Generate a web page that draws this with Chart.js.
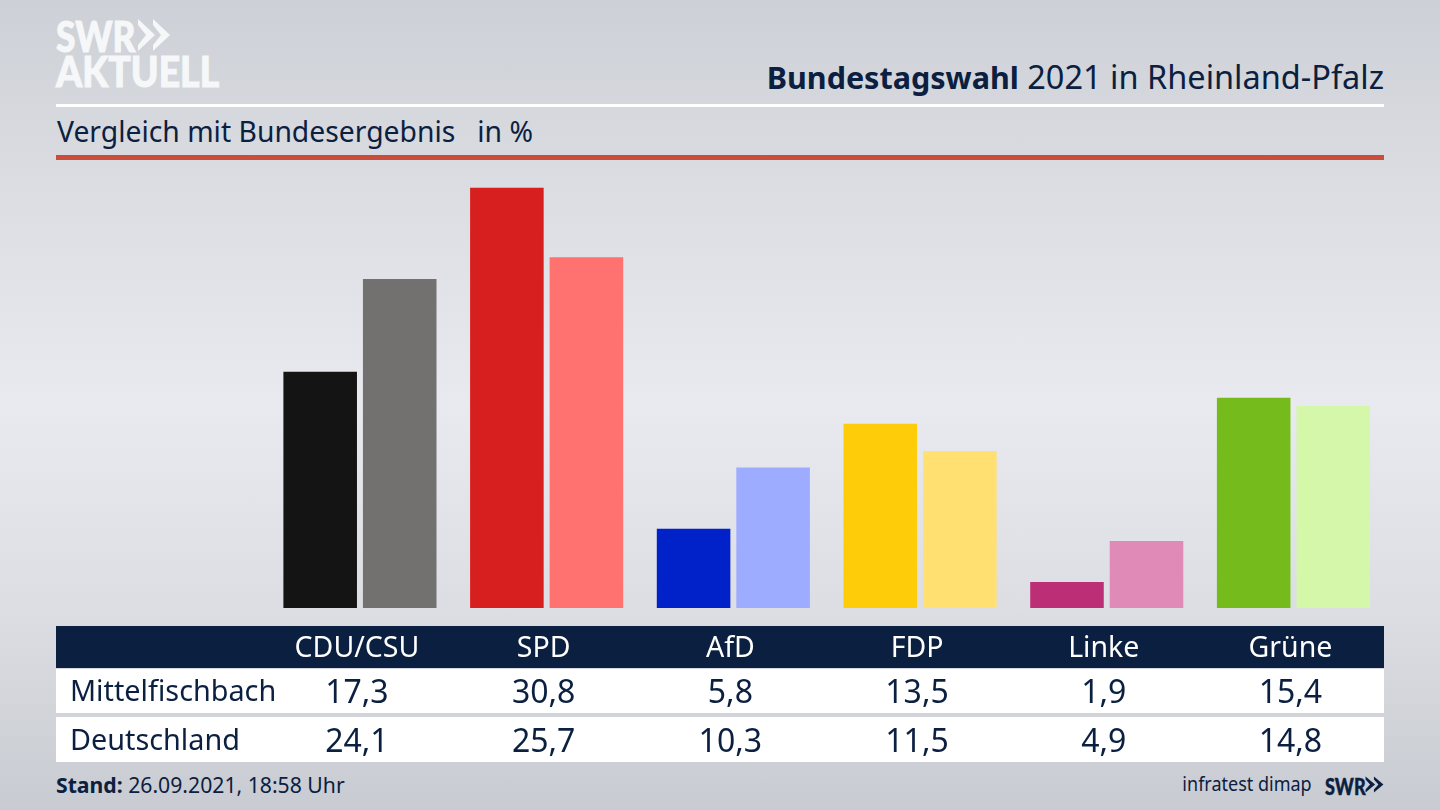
<!DOCTYPE html>
<html lang="de">
<head>
<meta charset="utf-8">
<title>Bundestagswahl 2021 in Rheinland-Pfalz</title>
<script src="https://cdn.jsdelivr.net/npm/chart.js@4"></script>
<style>
  * { margin: 0; padding: 0; box-sizing: border-box; }
  html, body { width: 1440px; height: 810px; overflow: hidden; }
  body {
    position: relative;
    font-family: "Noto Sans", sans-serif;
    color: #0b2040;
    background: linear-gradient(180deg, #cdd0d6 0%, #dcdee3 25%, #e9eaef 50%, #dcdee3 75%, #c8cbd1 100%);
  }
  .abs { position: absolute; white-space: nowrap; line-height: 1; }
  #chart { position: absolute; left: 0; top: 0; z-index: 2; }
  #band { position: absolute; left: 56px; top: 626px; width: 1328px; height: 42px; background: #0b2040; }
  .row { position: absolute; left: 56px; width: 1328px; background: #fff; }
  .cell { transform: translateX(-50%); font-size: 32px; z-index: 3; }
  .rowlabel { left: 70px; font-size: 28.8px; z-index: 3; }
  .logo { color: #f6f7f8; font-family: Lato, sans-serif; font-weight: 900; -webkit-text-stroke: 1px #f6f7f8; transform-origin: left top; }
</style>
</head>
<body>
<div class="abs logo" style="left:56px;top:15px;font-size:42px;transform:scaleX(.84);">SWR</div>
<svg class="abs" style="left:137px;top:18px" width="34" height="34" viewBox="0 0 34 34">
  <path d="M1 1L18 17L1 33L1 27L9 17L1 7Z M16 1L33 17L16 33L16 27L24 17L16 7Z" fill="#f6f7f8"/>
</svg>
<div class="abs logo" style="left:56px;top:50px;font-size:42px;transform:scaleX(.89);">AKTUELL</div>

<div class="abs" id="title" style="right:56px;top:61px;font-size:32.5px;"><b style="font-size:30.5px">Bundestagswahl</b> 2021 in Rheinland-Pfalz</div>
<div class="abs" style="left:56px;top:104px;width:1328px;height:3px;background:#fff;"></div>
<div class="abs" id="subtitle" style="left:57px;top:117px;font-size:28.3px;white-space:pre;">Vergleich mit Bundesergebnis   in %</div>
<div class="abs" style="left:56px;top:155px;width:1328px;height:5px;background:#c94f3c;"></div>

<div id="band"></div>
<div class="row" style="top:669px;height:44px;"></div>
<div class="row" style="top:717px;height:45px;"></div>

<canvas id="chart" width="1440" height="810"></canvas>

<div class="abs" style="left:56px;top:774px;font-size:21.2px;"><b>Stand:</b> 26.09.2021, 18:58 Uhr</div>
<div class="abs" style="right:128px;top:774px;font-size:20px;transform:scaleX(.9);transform-origin:right top;">infratest dimap</div>
<div class="abs" style="left:1325px;top:773px;font:900 22px Lato,sans-serif;transform:scaleX(.82);transform-origin:left top;-webkit-text-stroke:.4px #0b2040;">SWR</div>
<svg class="abs" style="left:1365px;top:776px" width="19" height="17" viewBox="0 0 34 34" preserveAspectRatio="none">
  <path d="M1 1L18 17L1 33L1 27L9 17L1 7Z M16 1L33 17L16 33L16 27L24 17L16 7Z" fill="#0b2040"/>
</svg>

<script>
// ── Data ──────────────────────────────────────────────────────────────
const parties      = ['CDU/CSU', 'SPD', 'AfD', 'FDP', 'Linke', 'Grüne'];
const mittelfisch  = [17.3, 30.8, 5.8, 13.5, 1.9, 15.4];
const deutschland  = [24.1, 25.7, 10.3, 11.5, 4.9, 14.8];
const colorsLocal  = ['#141414', '#d81f1f', '#0022c8', '#ffcc0a', '#bc2f77', '#76bb1c'];
const colorsFederal = ['#72716f', '#ff7270', '#9dacff', '#ffe070', '#e08ab8', '#d4f7a9'];

const LABEL_SHIFT = -3;   // the labels sit 3px left of the bar groups

// ── Chart ─────────────────────────────────────────────────────────────
const chart = new Chart(document.getElementById('chart'), {
    type: 'bar',
    data: {
        labels: parties,
        datasets: [
            { label: 'Mittelfischbach', data: mittelfisch, backgroundColor: colorsLocal },
            { label: 'Deutschland',     data: deutschland, backgroundColor: colorsFederal }
        ]
    },
    options: {
        responsive: false,
        animation: false,
        devicePixelRatio: 1,
        categoryPercentage: 0.852,
        barPercentage: 0.925,
        layout: { padding: { left: 266.6, right: 53.2, top: 187.5, bottom: 0 } },
        plugins: { legend: { display: false }, tooltip: { enabled: false } },
        scales: {
            x: {
                grid: { display: false, drawTicks: false },
                border: { display: false },
                afterFit: s => { s.height = 202; },
                ticks: {
                    color: '#fff',
                    padding: 24,
                    labelOffset: LABEL_SHIFT,
                    maxRotation: 0,
                    font: { family: '"Noto Sans"', size: 28.5 }
                }
            },
            y: { display: false, min: 0, max: 30.8 }
        }
    }
});

// ── Table rows, aligned on the chart's own category scale ─────────────
function fmt(v) { return v.toFixed(1).replace('.', ','); }
function addRow(name, values, top) {
    const label = document.createElement('div');
    label.className = 'abs rowlabel';
    label.style.top = (top + 1) + 'px';
    label.textContent = name;
    document.body.appendChild(label);
    values.forEach((v, i) => {
        const c = document.createElement('div');
        c.className = 'abs cell';
        c.style.top = top + 'px';
        c.style.left = (chart.scales.x.getPixelForTick(i) + LABEL_SHIFT) + 'px';
        c.textContent = fmt(v);
        document.body.appendChild(c);
    });
}
addRow('Mittelfischbach', mittelfisch, 675);
addRow('Deutschland', deutschland, 724);
</script>
</body>
</html>
